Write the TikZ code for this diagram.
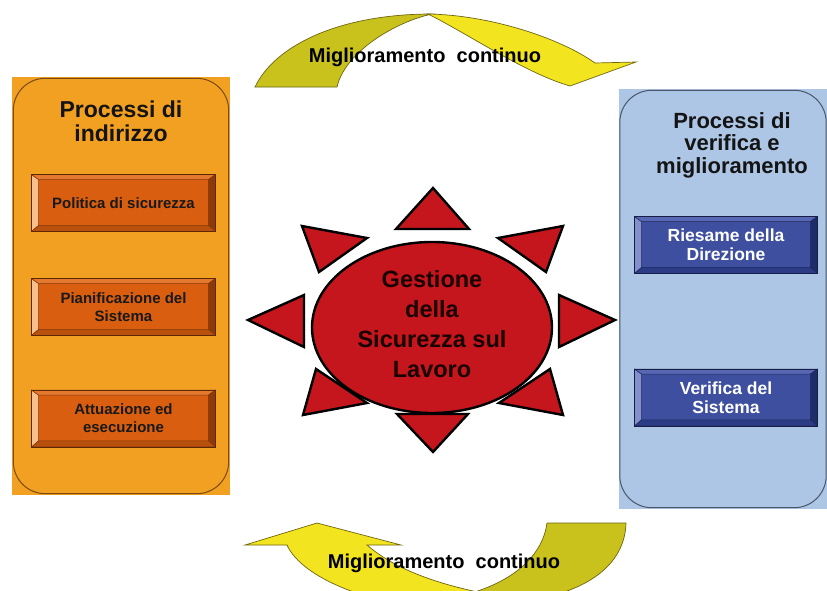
\documentclass[tikz,border=0pt]{standalone}
\usepackage{fontspec}
\setmainfont{Liberation Sans}
\usetikzlibrary{shapes.geometric}
\definecolor{panelor}{HTML}{F1A021}
\definecolor{panelorline}{HTML}{7A4A10}
\definecolor{panelbl}{HTML}{ADC6E6}
\definecolor{panelblline}{HTML}{4A5668}
\definecolor{ofac}{HTML}{D95E10}
\definecolor{oleft}{HTML}{F7BE8E}
\definecolor{otop}{HTML}{E4782F}
\definecolor{oright}{HTML}{8E3A08}
\definecolor{obot}{HTML}{B9500D}
\definecolor{oline}{HTML}{5A2A05}
\definecolor{bfac}{HTML}{3E4F9F}
\definecolor{bleft}{HTML}{8290CC}
\definecolor{btop}{HTML}{5767B3}
\definecolor{bright}{HTML}{1F2C6A}
\definecolor{bbot}{HTML}{2C3B85}
\definecolor{bline}{HTML}{161E50}
\definecolor{sunred}{HTML}{C4161C}
\definecolor{ylight}{HTML}{F2E520}
\definecolor{ydark}{HTML}{C9C21C}
\definecolor{yline}{HTML}{6E6510}
\tikzset{
  obox/.style={fill=ofac, draw=oline, line width=0.8pt, minimum width=183pt, minimum height=56pt, inner sep=0pt, align=center, text=black!90, font=\bfseries\fontsize{15}{18}\selectfont},
  bbox/.style={fill=bfac, draw=bline, line width=0.8pt, minimum width=182pt, minimum height=56pt, inner sep=0pt, align=center, text=white, font=\bfseries\fontsize{17.5}{19}\selectfont},
  ptitle/.style={align=center, text=black!92, font=\bfseries\fontsize{23}{24}\selectfont, inner sep=0pt},
  suntri/.style={fill=sunred, draw=black, line width=2.4pt, line join=miter},
  arrtxt/.style={text=black, font=\bfseries\fontsize{20}{24}\selectfont, inner sep=0pt},
  yarrl/.style={fill=ylight, draw=yline, line width=0.7pt},
  yarrd/.style={fill=ydark, draw=yline, line width=0.7pt}
}
\newcommand\bevelbox[5]{%
  \fill[#2, draw=#5!70!black, line width=0.5pt] (#1.north west) -- (#1.south west) -- ([shift={(7,-6)}]#1.south west) -- ([shift={(7,5)}]#1.north west) -- cycle;
  \fill[#3, draw=#5!70!black, line width=0.5pt] (#1.north west) -- (#1.north east) -- ([shift={(-7,5)}]#1.north east) -- ([shift={(7,5)}]#1.north west) -- cycle;
  \fill[#4, draw=#5!70!black, line width=0.5pt] (#1.north east) -- (#1.south east) -- ([shift={(-7,-6)}]#1.south east) -- ([shift={(-7,5)}]#1.north east) -- cycle;
  \fill[#5, draw=#5!70!black, line width=0.5pt] (#1.south west) -- (#1.south east) -- ([shift={(-7,-6)}]#1.south east) -- ([shift={(7,-6)}]#1.south west) -- cycle;
  \draw[#5!50!black, line width=0.8pt] (#1.north west) rectangle (#1.south east);
}
\begin{document}
\begin{tikzpicture}[x=1pt, y=-1pt]
\useasboundingbox (0,0) rectangle (827,590);
\clip (0,0) rectangle (827,590);

% ---------- left panel ----------
\node[fill=panelor, minimum width=218pt, minimum height=418pt, inner sep=0pt] (L) at (121,286) {};
\draw[panelorline, line width=1pt, rounded corners=32pt] ([shift={(1.5,1.5)}]L.north west) rectangle ([shift={(-1.5,-1.5)}]L.south east);
\node[ptitle] (Lt) at (121,121) {Processi di\\indirizzo};

\node[obox] (o1) at (123.5,203) {};
\bevelbox{o1}{oleft}{otop}{oright}{obot}
\node[obox, fill=none, draw=none] (o1t) at (o1.center) {Politica di sicurezza};

\node[obox] (o2) at (123.5,307) {};
\bevelbox{o2}{oleft}{otop}{oright}{obot}
\node[obox, fill=none, draw=none] (o2t) at (o2.center) {Pianificazione del\\Sistema};

\node[obox] (o3) at (123.5,418.5) {};
\bevelbox{o3}{oleft}{otop}{oright}{obot}
\node[obox, fill=none, draw=none] (o3t) at (o3.center) {Attuazione ed\\esecuzione};

% ---------- right panel ----------
\node[fill=panelbl, minimum width=209pt, minimum height=420pt, inner sep=0pt] (R) at (723,299) {};
\draw[panelblline, line width=1pt, rounded corners=32pt] ([shift={(1.5,1.5)}]R.north west) rectangle ([shift={(-1.5,-1.5)}]R.south east);
\node[ptitle, font=\bfseries\fontsize{22}{22.5}\selectfont] (Rt) at (732,145) {Processi di\\verifica e\\miglioramento};

\node[bbox] (b1) at (726,245) {};
\bevelbox{b1}{bleft}{btop}{bright}{bbot}
\node[bbox, fill=none, draw=none] (b1t) at (b1.center) {Riesame della\\Direzione};

\node[bbox] (b2) at (726,397.5) {};
\bevelbox{b2}{bleft}{btop}{bright}{bbot}
\node[bbox, fill=none, draw=none] (b2t) at (b2.center) {Verifica del\\Sistema};

% ---------- sun ----------
\draw[suntri] (433,188) -- (396,229) -- (469,229) -- cycle;
\draw[suntri] (433,452) -- (397,414) -- (468,414) -- cycle;
\draw[suntri] (248,320) -- (304,295) -- (304,347) -- cycle;
\draw[suntri] (615,320) -- (559,295) -- (559,347) -- cycle;
\draw[suntri] (302,226) -- (367,238) -- (319,272) -- cycle;
\draw[suntri] (563,226) -- (498,238) -- (546,272) -- cycle;
\draw[suntri] (316,369) -- (367,403) -- (303,415) -- cycle;
\draw[suntri] (550,369) -- (499,403) -- (563,415) -- cycle;
\node[ellipse, fill=sunred, draw=black, line width=2.4pt, minimum width=240pt, minimum height=171pt, inner sep=0pt] (G) at (432,327.5) {};
\node[align=center, text=black!90!red, font=\bfseries\fontsize{23.5}{30}\selectfont, inner sep=0pt] (Gt) at (432,324) {Gestione\\della\\Sicurezza sul\\Lavoro};

% ---------- top arrow ----------
\draw[yarrd] (255,87) .. controls (275,45) and (340,14) .. (432,14)
  .. controls (395,22) and (345,52) .. (337,87) -- cycle;
\draw[yarrl] (428,14) .. controls (490,15) and (560,38) .. (595,63)
  -- (636,62) -- (570,86) .. controls (525,73) and (470,35) .. (428,14) -- cycle;
\node[arrtxt] (At) at (425,57) {Miglioramento\ \ continuo};

% ---------- bottom arrow ----------
\draw[yarrl] (317,523) -- (401,545) -- (367,545) .. controls (398,572) and (450,590) .. (525,600)
  -- (455,612) .. controls (370,606) and (302,578) .. (287,545) -- (245,545) -- cycle;
\draw[yarrd] (547,523) -- (626,523) .. controls (625,560) and (595,592) .. (520,602)
  -- (440,600) .. controls (505,590) and (542,560) .. (547,523) -- cycle;
\node[arrtxt] (Ab) at (444,563) {Miglioramento\ \ continuo};
\end{tikzpicture}
\end{document}
